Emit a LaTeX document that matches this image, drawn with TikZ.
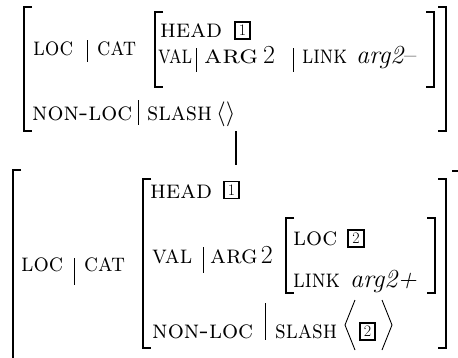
\documentclass[tikz,border=0pt]{standalone}
\newcommand\wfit[2]{\resizebox{#1pt}{\height}{#2}}
\begin{document}
\begin{tikzpicture}[x=1pt,y=-1pt,
  brk/.style={line width=1.7pt},
  sep/.style={line width=0.9pt},
  lbl/.style={anchor=base west, inner sep=0pt, font=\fontsize{26}{30}\selectfont},
  tag/.style={draw, line width=1.6pt, minimum width=15.5pt, minimum height=17pt, inner sep=0pt, font=\fontsize{16}{18}\selectfont}]
\useasboundingbox (0,0) rectangle (458,357);
% ---------- top structure ----------
\draw[brk] (32,7) -- (24,7) -- (24,131) -- (32,131);
\draw[brk] (438,7) -- (446,7) -- (446,131) -- (438,131);
\draw[brk] (163,12) -- (155,12) -- (155,87) -- (163,87);
\draw[brk] (426,12) -- (434,12) -- (434,87) -- (426,87);
\node[lbl] (tloc) at (33,55) {\wfit{40}{\textsc{loc}}};
\draw[sep] (87,40) -- (87,62);
\node[lbl] (tcat) at (97,55) {\wfit{39}{\textsc{cat}}};
\node[lbl] (thead) at (160,37) {\wfit{62}{\textsc{head}}};
\node[tag] (ttag1) at (242.5,30.3) {1};
\node[lbl] (tval) at (158,63) {\wfit{34}{\textsc{val}}};
\draw[sep] (196,48) -- (196,72);
\node[lbl] (targ) at (204,63) {\wfit{54}{\textsc{arg}}\kern5pt 2};
\draw[sep] (293,48) -- (293,72);
\node[lbl] (tlink) at (302,63) {\wfit{45}{\textsc{link}}};
\node[lbl] (tneg) at (356,63) {\textit{arg2}--};
\node[lbl] (tnonloc) at (32,120) {\wfit{100}{\textsc{non-loc}}};
\draw[sep] (138,100) -- (138,125);
\node[lbl] (tslash) at (147,120) {\wfit{65}{\textsc{slash}}};
\node[lbl] (tlist) at (216,120) {$\langle\rangle$};
% ---------- connector ----------
\coordinate (upper) at (236,131);
\coordinate (lower) at (236,165);
\draw[line width=1.5pt] (upper) -- (lower);
% ---------- bottom structure ----------
\draw[brk] (21,170) -- (13,170) -- (13,360);
\draw[brk] (452,171) -- (460,171) -- (460,360);
\draw[brk] (151,179) -- (143,179) -- (143,348) -- (151,348);
\draw[brk] (438,179) -- (446,179) -- (446,348) -- (438,348);
\draw[brk] (294,218) -- (286,218) -- (286,293) -- (294,293);
\draw[brk] (427,218) -- (435,218) -- (435,293) -- (427,293);
\node[lbl] (bloc) at (21,271) {\wfit{42}{\textsc{loc}}};
\draw[sep] (74,258) -- (74,285);
\node[lbl] (bcat) at (84,271) {\wfit{41}{\textsc{cat}}};
\node[lbl] (bhead) at (150,198) {\wfit{62}{\textsc{head}}};
\node[tag] (btag1) at (231.5,190) {1};
\node[lbl] (bval) at (152,263) {\wfit{40}{\textsc{val}}};
\draw[sep] (203,247) -- (203,273);
\node[lbl] (barg) at (210,263) {\textsc{arg}\kern3pt 2};
\node[lbl] (bloc2) at (293,245) {\wfit{44}{\textsc{loc}}};
\node[tag] (btag2) at (356,238.5) {2};
\node[lbl] (blink) at (293,287) {\wfit{47}{\textsc{link}}};
\node[lbl] (bpos) at (350,287) {\textit{arg2+}};
\node[lbl] (bnonloc) at (152,338) {\wfit{101}{\textsc{non-loc}}};
\draw[sep] (265,303) -- (265,340);
\node[lbl] (bslash) at (275,338) {\wfit{62}{\textsc{slash}}};
\node[tag] (btag3) at (367.5,331.5) {2};
\draw[line width=0.9pt] (355,300) -- (345,325) -- (355,350);
\draw[line width=0.9pt] (382,300) -- (392,325) -- (382,350);
\end{tikzpicture}
\end{document}
